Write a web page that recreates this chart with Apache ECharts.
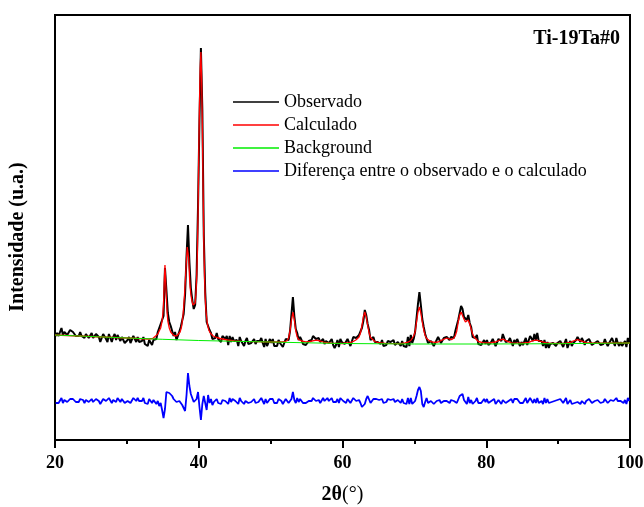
<!DOCTYPE html>
<html>
<head>
<meta charset="utf-8">
<script src="https://cdn.jsdelivr.net/npm/echarts@6/dist/echarts.min.js"></script>
<style>
  html, body { margin: 0; padding: 0; background: #fff; }
  #chart { width: 644px; height: 507px; }
</style>
</head>
<body>
<div id="chart"></div>
<script>
// 2theta grid of the measured pattern
const thetaStart = 20.1;
const thetaStep = 0.2;

// observed intensity (a.u.), one value per grid step
const observado = [
  104,107,104,108,112,105,108,107,105,107,
  110,111,108,110,104,103,104,108,104,106,
  102,106,104,102,102,107,102,101,106,108,
  103,98,100,106,106,101,98,106,104,98,
  103,106,100,105,105,99,103,101,97,96,
  100,103,97,95,104,101,98,103,98,98,
  99,103,96,97,94,100,101,95,100,99,
  101,108,106,116,115,124,172,150,127,118,
  114,109,104,108,100,104,106,113,113,126,
  146,184,215,178,152,140,131,135,165,234,
  320,392,330,205,148,118,117,110,107,101,
  103,102,107,101,101,98,104,103,101,104,
  95,104,98,103,99,98,100,94,103,99,
  99,94,99,102,96,96,97,95,101,96,
  99,97,99,102,97,93,101,94,95,101,
  97,101,94,94,94,100,97,98,93,95,
  101,99,100,109,126,143,124,111,107,100,
  103,100,96,95,95,94,99,99,100,104,
  102,101,101,102,98,97,101,96,99,99,
  97,96,101,95,92,95,100,93,101,98,
  96,96,94,101,101,94,94,103,102,102,
  104,105,107,112,119,130,125,116,110,100,
  98,103,98,100,98,99,96,100,94,95,
  95,99,100,98,99,100,95,93,98,97,
  94,99,94,95,93,103,94,105,97,101,
  108,122,136,148,135,121,113,106,104,97,
  98,99,101,94,97,98,103,101,97,97,
  102,104,103,102,100,103,103,102,109,108,
  120,127,134,131,123,122,120,125,117,113,
  103,102,102,105,96,98,95,95,100,96,
  100,95,97,98,101,100,94,95,101,102,
  99,106,102,98,100,99,102,101,94,100,
  97,101,101,94,98,95,93,102,95,94,
  104,102,99,106,100,107,99,101,99,94,
  100,92,98,92,96,94,97,95,94,97,
  98,99,100,93,97,101,92,96,99,94,
  97,99,100,103,102,98,102,99,95,99,
  97,101,101,95,93,97,99,99,98,95,
  94,96,101,97,94,97,99,102,98,94,
  102,97,94,98,94,94,99,93,102,97
];

// difference curve (observed - calculated, shifted down), same grid
const diferenca = [
  37,39,37,39,42,37,40,39,38,39,
  41,42,41,42,38,37,38,41,39,40,
  37,40,39,38,38,41,38,37,41,42,
  39,36,37,41,41,39,37,42,41,37,
  40,42,38,42,42,38,41,39,37,36,
  39,41,37,36,42,41,39,42,39,39,
  39,42,37,38,36,41,41,37,40,39,
  36,39,34,37,30,22,31,48,48,47,
  46,44,41,42,38,40,39,40,35,33,
  29,45,67,54,46,42,38,37,41,48,
  33,20,36,44,43,30,45,37,41,35,
  38,37,41,37,38,36,40,40,39,41,
  36,42,38,41,39,39,40,36,42,39,
  39,36,39,41,37,37,38,37,41,37,
  39,38,39,42,39,36,41,37,37,41,
  39,41,37,37,37,41,39,39,36,37,
  41,39,37,36,41,48,40,37,42,38,
  41,39,37,37,37,36,39,39,39,42,
  40,39,39,40,37,37,42,39,41,42,
  39,39,42,38,36,38,41,37,42,40,
  39,39,37,41,41,37,36,42,41,39,
  40,40,37,33,31,36,41,44,42,37,
  37,41,39,41,39,40,39,41,37,38,
  38,41,41,40,41,41,38,37,40,39,
  37,41,37,37,36,42,36,42,36,37,
  39,44,50,53,49,36,33,38,42,37,
  38,39,40,36,38,39,41,40,37,36,
  39,39,39,38,37,40,40,39,41,37,
  38,44,45,46,40,42,36,43,37,40,
  36,37,39,42,37,39,37,37,41,38,
  41,37,39,39,41,41,36,36,40,40,
  36,40,38,37,39,39,41,41,37,41,
  39,41,41,37,39,37,36,42,37,36,
  42,40,37,41,37,42,37,39,39,36,
  42,37,41,37,39,38,40,39,38,40,
  41,41,42,37,39,42,36,38,40,36,
  36,37,37,38,38,36,39,38,36,39,
  39,41,41,37,36,39,40,40,39,37,
  37,38,41,39,37,39,40,42,39,37,
  42,39,37,39,37,37,40,36,42,39
];

// calculated profile [2theta, intensity]
const calculado = [
  [20,105],[25,103.5],[30,102],[33,101],[33.6,101.5],[34,104],[34.3,106],[34.5,108],
  [34.7,112],[34.9,119],[35,126],[35.1,136],[35.2,158],[35.3,175],[35.4,158],[35.5,141],
  [35.6,127],[35.7,119],[35.9,112],[36.1,108],[36.4,105.5],[36.7,104],[37,104.5],[37.2,105.5],
  [37.4,108],[37.6,113],[37.8,124],[37.9,133],[38,143],[38.1,155],[38.2,168],[38.3,182],
  [38.4,193],[38.5,195],[38.6,182],[38.7,165],[38.8,153],[38.9,146],[39,141],[39.1,138],
  [39.2,135],[39.3,133],[39.4,133],[39.5,137],[39.6,146],[39.7,160],[39.8,185],[39.9,225],
  [40,285],[40.1,335],[40.2,372],[40.3,388],[40.4,362],[40.5,315],[40.6,255],[40.7,200],
  [40.8,165],[40.9,142],[41,129],[41.2,116],[41.4,110],[41.6,107],[41.8,105],[42,104],
  [42.5,102.5],[43,101.5],[44,100],[45,99.2],[46,98.7],[48,98.3],[50,98],[51.5,98],
  [52,98.3],[52.3,99.5],[52.5,102],[52.7,109],[52.9,120],[53.1,128],[53.3,120],[53.5,109],
  [53.7,103],[53.9,100.5],[54.3,99],[54.9,98.2],[55.5,98.5],[56,99.3],[56.4,99.8],[56.9,99],
  [57.5,97.5],[58.5,96.8],[60,96.5],[61,97.3],[61.5,98.5],[61.9,100.3],[62.1,101.5],[62.3,103],
  [62.5,107],[62.7,114],[62.9,123],[63.1,128],[63.3,123],[63.5,115],[63.7,107],[63.9,102.5],
  [64.1,100.5],[64.5,98.5],[65,97.4],[66,96.6],[68,96.3],[68.7,97],[69.1,97.8],[69.5,99.5],
  [69.7,101],[69.9,104],[70.1,108],[70.3,118],[70.5,128],[70.7,133],[70.9,127],[71.1,118],
  [71.3,110],[71.5,104.5],[71.7,101.5],[71.9,100],[72.3,98.3],[72.8,97.6],[73.3,98],[73.9,100.2],
  [74.5,102],[74.9,101],[75.2,100.5],[75.5,102],[75.7,104.5],[75.9,109],[76.1,118],[76.3,125],
  [76.5,128],[76.7,126],[76.9,121],[77.1,118],[77.3,119],[77.5,120],[77.7,116],[77.9,111],
  [78.1,106],[78.3,103],[78.5,101],[78.9,98.5],[79.5,97.3],[80.5,97.1],[81.3,98],[81.9,100],
  [82.3,100.8],[82.9,98.8],[83.5,97.2],[85,96.8],[85.9,97.7],[86.5,99.3],[87,99.9],[87.5,98.8],
  [88.2,97.3],[89,96.6],[91,96.5],[91.7,97.6],[92.1,99],[92.7,100.4],[93.3,98.9],[93.9,97.4],
  [95,96.8],[100,97]
];

// refined background [2theta, intensity]
const background = [
  [20,105],[25,103.5],[30,102],[35,100.7],[40,99.5],[45,98.7],[50,98],
  [55,97.2],[60,96.5],[70,96],[80,96],[90,96.3],[100,97]
];

const serif = '"Liberation Serif", "Times New Roman", serif';
const theta = i => +(thetaStart + i * thetaStep).toFixed(1);

const chart = echarts.init(document.getElementById('chart'));

chart.setOption({
  animation: false,
  backgroundColor: '#fff',
  grid: {
    left: 55, right: 14, top: 15, bottom: 67, outerBoundsMode: 'none',
    show: true, borderColor: '#000', borderWidth: 2
  },
  title: {
    text: 'Ti-19Ta#0', right: 24, top: 29, padding: 0,
    textStyle: { fontFamily: serif, fontSize: 20, fontWeight: 'bold', color: '#000' }
  },
  legend: {
    orient: 'vertical', left: 233, top: 93, padding: 0,
    icon: 'rect', itemWidth: 46, itemHeight: 1.5, itemGap: 5, selectedMode: false,
    textStyle: { fontFamily: serif, fontSize: 18, lineHeight: 18, color: '#000', padding: [0, 0, 0, 0] },
    data: ['Observado', 'Calculado', 'Background', 'Diferença entre o observado e o calculado']
  },
  xAxis: {
    type: 'value', min: 20, max: 100, interval: 20,
    axisLine: { lineStyle: { color: '#000', width: 2 } },
    axisTick: { length: 8, lineStyle: { color: '#000', width: 2 } },
    minorTick: { show: true, splitNumber: 2, length: 4, lineStyle: { color: '#000', width: 2 } },
    splitLine: { show: false },
    axisLabel: { margin: 14, fontFamily: serif, fontSize: 18, fontWeight: 'bold', color: '#000' },
    name: '{b|2θ}{n|(°)}', nameLocation: 'middle', nameGap: 45,
    nameTextStyle: {
      rich: {
        b: { fontFamily: serif, fontSize: 20, fontWeight: 'bold', color: '#000' },
        n: { fontFamily: serif, fontSize: 20, color: '#000' }
      }
    }
  },
  yAxis: {
    type: 'value', min: 0, max: 425,
    axisLine: { show: true, lineStyle: { color: '#000', width: 2 } },
    axisTick: { show: false }, axisLabel: { show: false }, splitLine: { show: false }
  },
  graphic: [{
    type: 'text', x: 18, y: 237, rotation: Math.PI / 2,
    style: { text: 'Intensidade (u.a.)', font: 'bold 20px ' + serif, fill: '#000', align: 'center', verticalAlign: 'middle' }
  }],
  series: [
    {
      name: 'Observado', type: 'line', symbol: 'none', color: '#000',
      lineStyle: { width: 2 },
      data: observado.map((v, i) => [theta(i), v])
    },
    {
      name: 'Calculado', type: 'line', symbol: 'none', color: '#ff0000',
      lineStyle: { width: 1.3 },
      data: calculado
    },
    {
      name: 'Background', type: 'line', symbol: 'none', color: '#00ee00',
      lineStyle: { width: 1 },
      data: background
    },
    {
      name: 'Diferença entre o observado e o calculado', type: 'line', symbol: 'none', color: '#0000ff',
      lineStyle: { width: 1.8 },
      data: diferenca.map((v, i) => [theta(i), v])
    }
  ]
});
</script>
</body>
</html>
